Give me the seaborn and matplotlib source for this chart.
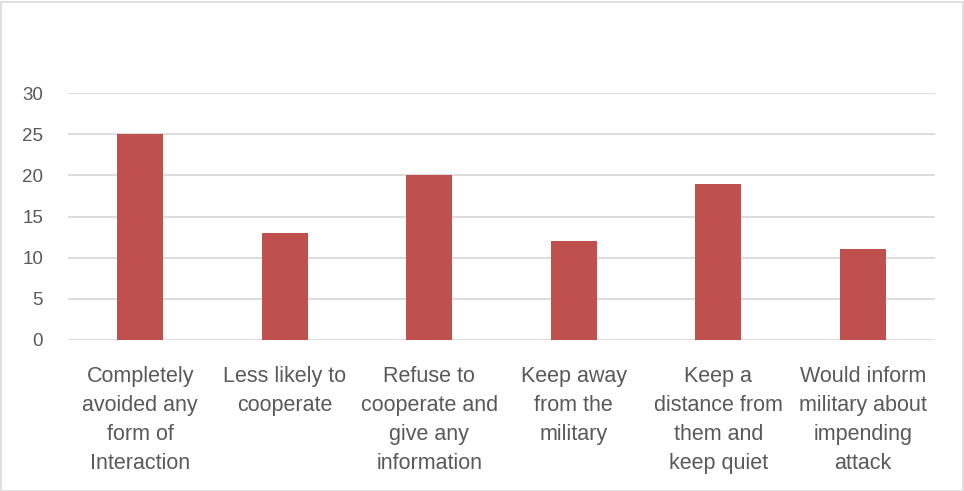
import matplotlib
matplotlib.use("Agg")
import matplotlib.pyplot as plt
import seaborn as sns
import pandas as pd
from matplotlib.patches import Rectangle

categories = [
    "Completely\navoided any\nform of\nInteraction",
    "Less likely to\ncooperate",
    "Refuse to\ncooperate and\ngive any\ninformation",
    "Keep away\nfrom the\nmilitary",
    "Keep a\ndistance from\nthem and\nkeep quiet",
    "Would inform\nmilitary about\nimpending\nattack",
]
values = [25, 13, 20, 12, 19, 11]
y_ticks = [0, 5, 10, 15, 20, 25, 30]

df = pd.DataFrame({"category": categories, "value": values})

sns.set_theme(style="white")
plt.rcParams["font.family"] = ["Liberation Sans", "DejaVu Sans"]

fig = plt.figure(figsize=(9.64, 4.91), dpi=100)
W, H = 964, 491
ax = fig.add_axes([68 / W, 1 - 340 / H, (935 - 68) / W, (340 - 93) / H])

sns.barplot(data=df, x="category", y="value", color="#C0504D", width=0.32,
            saturation=1, linewidth=0, ax=ax, zorder=3)

ax.set_ylim(0, 30)
ax.set_xlim(-0.5, len(categories) - 0.5)
ax.set_yticks(y_ticks)
ax.set_yticklabels([str(t) for t in y_ticks])
ax.grid(axis="y", color="#D9D9D9", linewidth=1.3, zorder=0)
ax.grid(axis="x", visible=False)
ax.set_axisbelow(True)
for s in ax.spines.values():
    s.set_visible(False)
ax.set_xlabel("")
ax.set_ylabel("")
ax.tick_params(axis="y", length=0, pad=18, labelsize=13.5, labelcolor="#595959")
ax.tick_params(axis="x", length=0, pad=19, labelsize=15.5, labelcolor="#595959")
for lbl in ax.get_xticklabels():
    lbl.set_linespacing(1.49)
    lbl.set_verticalalignment("top")

fig.patches.append(Rectangle((0.5 / W, 0.5 / H), (W - 2) / W, (H - 2) / H,
                             transform=fig.transFigure, fill=False,
                             edgecolor="#D9D9D9", linewidth=1.2))

fig.savefig("out.png", dpi=100)
